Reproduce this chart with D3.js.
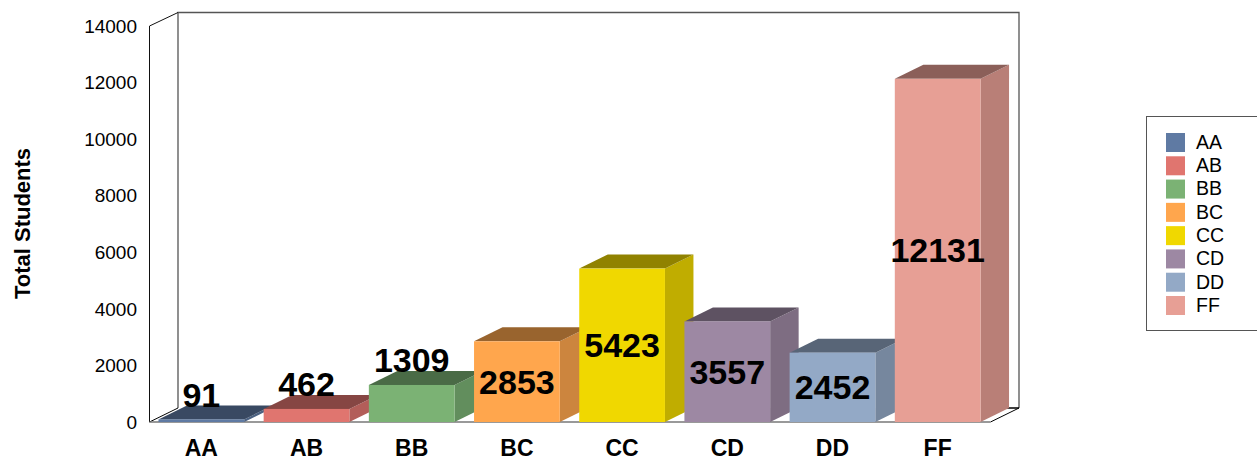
<!DOCTYPE html>
<html><head><meta charset="utf-8">
<script src="https://cdn.jsdelivr.net/npm/d3@7/dist/d3.min.js"></script>
<style>html,body{margin:0;padding:0;background:#fff;overflow:hidden}svg{display:block}text{font-family:"Liberation Sans",Arial,sans-serif;fill:#000}</style>
</head><body><script>
const categories=["AA","AB","BB","BC","CC","CD","DD","FF"];
const values=[91,462,1309,2853,5423,3557,2452,12131];
const colors=["#5f7aa3","#e0756f","#7bb274","#ffa64d","#f0d800","#9d88a3","#93a9c6","#e79f95"];
const yTicks=[0,2000,4000,6000,8000,10000,12000,14000];
const W=1257,H=456,L=149.5,R=990.5,B=422,T=26,DX=28.5,DY=14;
const svg=d3.select("body").append("svg").attr("width",W).attr("height",H);
const x=d3.scaleBand().domain(categories).range([L-0.5,R-0.5]).paddingInner(0.185).paddingOuter(0.09);
const y=d3.scaleLinear().domain([0,14000]).range([B,T]);
const frame=svg.append("g").attr("fill","none");
frame.append("path").attr("d",`M${L+DX},${B-DY}V${T-DY+.5}H${R+DX}V${B-DY}`).attr("stroke","#555").attr("stroke-width",1.3);
frame.append("path").attr("d",`M${L},${B}V${T}L${L+DX},${T-DY+.5}`).attr("stroke","#111").attr("stroke-width",1);
frame.append("path").attr("d",`M${L},${B}L${L+DX},${B-DY}`).attr("stroke","#000").attr("stroke-width",1);
frame.append("path").attr("d",`M${R},${B}L${R+DX},${B-DY}`).attr("stroke","#000").attr("stroke-width",1);
frame.append("path").attr("d",`M${R+14},${B-DY}H${R+DX}`).attr("stroke","#000").attr("stroke-width",1.5);
frame.append("path").attr("d",`M${L},${B}H${R}`).attr("stroke","#777").attr("stroke-width",1.5);
const bars=svg.append("g").selectAll("g").data(categories).join("g");
const shade=(c,k)=>{const r=d3.rgb(c);return d3.rgb(r.r*k,r.g*k,r.b*k).formatHex();};
bars.each(function(c,i){
  const g=d3.select(this),x0=x(c),x1=x0+x.bandwidth(),t=y(values[i]);
  g.append("path").attr("d",`M${x1},${B}V${t}L${x1+DX},${t-DY}V${B-DY}Z`).attr("fill",shade(colors[i],0.8));
  g.append("path").attr("d",`M${x0},${t}L${x0+DX},${t-DY}H${x1+DX}L${x1},${t}Z`).attr("fill",shade(colors[i],0.6));
  g.append("rect").attr("x",x0).attr("y",t).attr("width",x.bandwidth()).attr("height",B-t).attr("fill",colors[i]);
});
svg.append("g").selectAll("text").data(yTicks).join("text")
  .attr("x",137).attr("y",d=>y(d)).attr("dy","0.35em").attr("text-anchor","end").attr("font-size",19).text(d=>d);
svg.append("g").selectAll("text").data(categories).join("text")
  .attr("x",c=>x(c)+x.bandwidth()/2).attr("y",455.5).attr("text-anchor","middle").attr("font-size",23).attr("font-weight","bold").text(c=>c);
svg.append("text").attr("transform","translate(22,223.5) rotate(-90)").attr("dy","0.35em").attr("text-anchor","middle").attr("font-size",22).attr("font-weight","bold").text("Total Students");
svg.append("g").selectAll("text").data(values).join("text")
  .attr("x",(d,i)=>x(categories[i])+x.bandwidth()/2).attr("text-anchor","middle").attr("font-size",34).attr("font-weight","bold").attr("dy","0.35em")
  .attr("y",d=>{const t=y(d);return B-t<40?t-24.5:(t+B)/2;}).text(d=>d);
const lg=svg.append("g");
lg.append("rect").attr("x",1146.5).attr("y",116.5).attr("width",120).attr("height",214).attr("fill","#fff").attr("stroke","#555").attr("stroke-width",1);
const ly=d3.scalePoint().domain(categories).range([133,296]);
lg.selectAll("rect.s").data(categories).join("rect").attr("class","s").attr("x",1166).attr("y",c=>ly(c)).attr("width",19).attr("height",19).attr("fill",(c,i)=>colors[i]);
lg.selectAll("text").data(categories).join("text").attr("x",1196).attr("y",c=>ly(c)+9).attr("dy","0.35em").attr("font-size",19.5).text(c=>c);
</script></body></html>
